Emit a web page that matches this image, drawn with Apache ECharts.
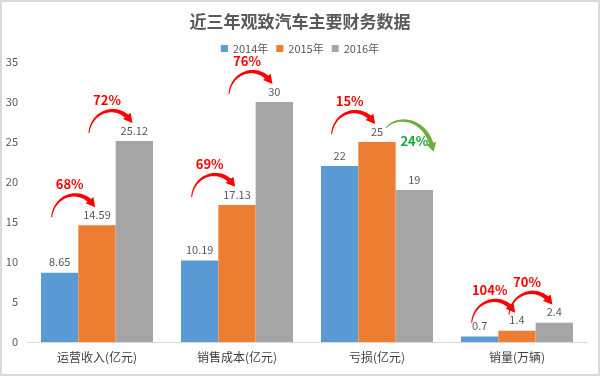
<!DOCTYPE html>
<html>
<head>
<meta charset="utf-8">
<script src="https://cdn.jsdelivr.net/npm/echarts@6/dist/echarts.min.js"></script>
<style>
html, body { margin: 0; padding: 0; background: #fff; }
#main { width: 600px; height: 376px; }
</style>
</head>
<body>
<div id="main"></div>
<script>
// 数据
var categories = ['运营收入(亿元)', '销售成本(亿元)', '亏损(亿元)', '销量(万辆)'];
var years = ['2014年', '2015年', '2016年'];
var data2014 = [8.65, 10.19, 22, 0.7];
var data2015 = [14.59, 17.13, 25, 1.4];
var data2016 = [25.12, 30, 19, 2.4];
var seriesData = [data2014, data2015, data2016];

// 增长箭头: 类目, 起始年份序号, 文字, 是否上升
var arrowCat = [0, 0, 1, 1, 2, 2, 3, 3];
var arrowFrom = [0, 1, 0, 1, 0, 1, 0, 1];
var arrowText = ['68%', '72%', '69%', '76%', '15%', '24%', '104%', '70%'];
var arrowUp = [true, true, true, true, true, false, true, true];

var colors = ['#5B9BD5', '#ED7D31', '#A5A5A5'];

// 画一条渐粗的弧形箭头(三次贝塞尔)
function curveShape(p0, c1, c2, p1, color) {
	var left = [], right = [];
	var n = 28;
	for (var s = 0; s <= n; s++) {
		var t = s / n, u = 1 - t;
		var x = u * u * u * p0[0] + 3 * u * u * t * c1[0] + 3 * u * t * t * c2[0] + t * t * t * p1[0];
		var y = u * u * u * p0[1] + 3 * u * u * t * c1[1] + 3 * u * t * t * c2[1] + t * t * t * p1[1];
		var dx = 3 * u * u * (c1[0] - p0[0]) + 6 * u * t * (c2[0] - c1[0]) + 3 * t * t * (p1[0] - c2[0]);
		var dy = 3 * u * u * (c1[1] - p0[1]) + 6 * u * t * (c2[1] - c1[1]) + 3 * t * t * (p1[1] - c2[1]);
		var len = Math.sqrt(dx * dx + dy * dy) || 1;
		var w = 0.5 + 1.8 * t;
		left.push([x - dy / len * w, y + dx / len * w]);
		right.push([x + dy / len * w, y - dx / len * w]);
	}
	var pts = left.concat(right.reverse());
	var ex = p1[0] - c2[0], ey = p1[1] - c2[1];
	var el = Math.sqrt(ex * ex + ey * ey);
	ex /= el; ey /= el;
	var tip = [p1[0] + ex * 5, p1[1] + ey * 5];
	var b = [p1[0] - ex * 4, p1[1] - ey * 4];
	var head = [tip, [b[0] - ey * 5, b[1] + ex * 5], [b[0] + ey * 5, b[1] - ex * 5]];
	return [
		{ type: 'polygon', shape: { points: pts }, style: { fill: color } },
		{ type: 'polygon', shape: { points: head }, style: { fill: color } }
	];
}

function renderArrow(params, api) {
	var i = params.dataIndex;
	var cat = arrowCat[i], k = arrowFrom[i];
	var c = api.coord([cat, 0]);
	var band = api.size([1, 0])[0];
	var barW = band * 0.8 / 3;
	var xFrom = c[0] - band * 0.4 + barW * (k + 0.5);
	var xTo = xFrom + barW;
	var yFrom = api.coord([cat, seriesData[k][cat]])[1];
	var yTo = api.coord([cat, seriesData[k + 1][cat]])[1];
	var p0, c1, c2, p1, tp, color, txtColor;
	if (arrowUp[i]) {
		p0 = [xFrom - 8, yTo - 8];
		c1 = [xFrom - 6, yTo - 30];
		c2 = [xTo - 18, yTo - 38];
		p1 = [xTo - 5, yTo - 22];
		tp = [xFrom + 10, yTo - 41];
		color = '#FF0000';
		txtColor = '#FF0000';
	} else {
		p0 = [xFrom + 9, yFrom - 14];
		c1 = [xFrom + 18, yFrom - 26];
		c2 = [xTo + 10, yFrom - 26];
		p1 = [xTo + 18, yFrom + 5];
		tp = [xTo + 0, yFrom - 1];
		color = '#6AAE3D';
		txtColor = '#13A538';
	}
	var children = curveShape(p0, c1, c2, p1, color);
	children.push({
		type: 'text',
		style: {
			text: arrowText[i],
			x: tp[0],
			y: tp[1],
			fill: txtColor,
			font: 'bold 13px "Noto Sans CJK SC", sans-serif',
			align: 'center',
			verticalAlign: 'middle'
		}
	});
	return { type: 'group', children: children };
}

var myChart = echarts.init(document.getElementById('main'));

var barLabel = {
	show: true,
	position: 'top',
	distance: 5,
	color: '#595959',
	fontSize: 11
};

var option = {
	color: colors,
	textStyle: { fontFamily: '"Noto Sans CJK SC", sans-serif' },
	graphic: [{
		type: 'rect',
		shape: { x: 1, y: 1, width: 598, height: 374 },
		style: { fill: 'none', stroke: '#D9D9D9', lineWidth: 2 },
		silent: true
	}],
	title: {
		text: '近三年观致汽车主要财务数据',
		left: 'center',
		top: 8,
		textStyle: { fontSize: 17, fontWeight: 'bold', color: '#595959' }
	},
	legend: {
		data: years,
		top: 38,
		itemWidth: 7,
		itemHeight: 7,
		itemGap: 8,
		icon: 'rect',
		textStyle: { fontSize: 11, color: '#595959' }
	},
	grid: { left: 27, right: 13, top: 62, bottom: 34 },
	xAxis: {
		type: 'category',
		data: categories,
		axisLine: { lineStyle: { color: '#D9D9D9' } },
		axisTick: { show: false },
		axisLabel: { fontSize: 12, color: '#404040', margin: 9 }
	},
	yAxis: {
		type: 'value',
		min: 0,
		max: 35,
		interval: 5,
		splitLine: { show: false },
		axisLine: { show: false },
		axisLabel: { fontSize: 11, color: '#595959', margin: 9 }
	},
	series: [{
		name: years[0],
		type: 'bar',
		barGap: '0%',
		barCategoryGap: '20%',
		label: barLabel,
		data: data2014
	}, {
		name: years[1],
		type: 'bar',
		barGap: '0%',
		barCategoryGap: '20%',
		label: barLabel,
		data: data2015
	}, {
		name: years[2],
		type: 'bar',
		barGap: '0%',
		barCategoryGap: '20%',
		label: barLabel,
		data: data2016
	}, {
		name: 'arrows',
		type: 'custom',
		renderItem: renderArrow,
		silent: true,
		clip: false,
		z: 10,
		encode: { x: 0, y: 1 },
		data: arrowCat.map(function (c) { return [c, 0]; })
	}]
};
myChart.setOption(option);
</script>
</body>
</html>
